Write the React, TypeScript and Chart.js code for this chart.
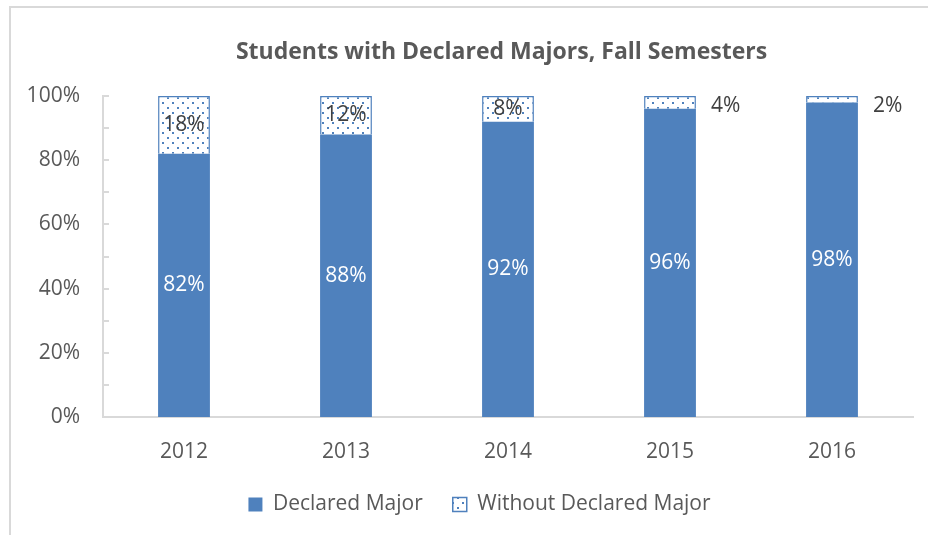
import { useEffect, useRef } from "react";
import { Chart, registerables } from "chart.js";

Chart.register(...registerables);

const titleText = "Students with Declared Majors, Fall Semesters";
const years = ["2012", "2013", "2014", "2015", "2016"];
const declaredMajor = [82, 88, 92, 96, 98];
const withoutMajor = [18, 12, 8, 4, 2];
const seriesNames = ["Declared Major", "Without Declared Major"];
const yTickValues = [0, 20, 40, 60, 80, 100];
const yMinorStep = 10;

const BLUE = "#4F81BD";
const AXIS_GRAY = "#d9d9d9";
const TEXT_GRAY = "#595959";
const LABEL_DARK = "#404040";
const FONT = "'Open Sans', 'DejaVu Sans', sans-serif";

function makeDotPattern(): CanvasPattern | string {
  const c = document.createElement("canvas");
  c.width = 10;
  c.height = 10;
  const g = c.getContext("2d");
  if (!g) return "#ffffff";
  g.fillStyle = "#ffffff";
  g.fillRect(0, 0, 10, 10);
  g.fillStyle = BLUE;
  g.fillRect(2, 2, 2, 2);
  g.fillRect(7, 7, 2, 2);
  const p = g.createPattern(c, "repeat");
  return p || "#ffffff";
}

const framePlugin = {
  id: "frame",
  beforeDraw(chart: any) {
    const { ctx, width, height } = chart;
    ctx.save();
    ctx.fillStyle = "#ffffff";
    ctx.fillRect(0, 0, width, height);
    ctx.strokeStyle = AXIS_GRAY;
    ctx.lineWidth = 2;
    ctx.beginPath();
    ctx.moveTo(10, height + 5);
    ctx.lineTo(10, 7);
    ctx.lineTo(width + 5, 7);
    ctx.stroke();
    ctx.restore();
  },
};

// shift the centring of the title and legend boxes the way the source frame does
const boxCentrePlugin = {
  id: "boxCentre",
  afterLayout(chart: any) {
    if (chart.legend) chart.legend.left = 46;
    if (chart.titleBlock) chart.titleBlock.left = 90;
  },
};

const minorTickPlugin = {
  id: "minorTicks",
  afterDraw(chart: any) {
    const y = chart.scales.y;
    const { ctx } = chart;
    const left = chart.chartArea.left;
    ctx.save();
    ctx.strokeStyle = AXIS_GRAY;
    ctx.lineWidth = 2;
    for (let v = y.min; v <= y.max; v += yMinorStep) {
      const py = Math.round(y.getPixelForValue(v));
      ctx.beginPath();
      ctx.moveTo(left, py);
      ctx.lineTo(left + 6, py);
      ctx.stroke();
    }
    ctx.restore();
  },
};

const valueLabelPlugin = {
  id: "valueLabels",
  afterDatasetsDraw(chart: any) {
    const { ctx } = chart;
    ctx.save();
    ctx.font = `21px ${FONT}`;
    ctx.textBaseline = "middle";
    chart.data.datasets.forEach((ds: any, di: number) => {
      const meta = chart.getDatasetMeta(di);
      meta.data.forEach((bar: any, i: number) => {
        const v = ds.data[i];
        const props = bar.getProps(["x", "y", "base", "width"], true);
        const cy = (props.y + props.base) / 2;
        if (di === 0) {
          ctx.fillStyle = "#ffffff";
          ctx.textAlign = "center";
          ctx.fillText(`${v}%`, props.x, cy);
        } else if (v >= 5) {
          ctx.fillStyle = LABEL_DARK;
          ctx.textAlign = "center";
          ctx.fillText(`${v}%`, props.x, cy);
        } else {
          ctx.fillStyle = LABEL_DARK;
          ctx.textAlign = "left";
          ctx.fillText(`${v}%`, props.x + props.width / 2 + 15, props.y + 10);
        }
      });
    });
    ctx.restore();
  },
};

export default function App() {
  const ref = useRef<HTMLCanvasElement | null>(null);

  useEffect(() => {
    document.body.style.margin = "0";
    const canvas = ref.current;
    if (!canvas) return;
    const pattern = makeDotPattern();
    Chart.defaults.font.family = FONT;
    const chart = new Chart(canvas, {
      type: "bar",
      data: {
        labels: years,
        datasets: [
          {
            label: seriesNames[0],
            data: declaredMajor,
            backgroundColor: BLUE,
            borderWidth: 0,
          },
          {
            label: seriesNames[1],
            data: withoutMajor,
            backgroundColor: pattern as any,
            borderColor: BLUE,
            borderWidth: 1.5,
          },
        ],
      },
      options: {
        responsive: false,
        animation: false,
        devicePixelRatio: 1,
        layout: { padding: { left: 0, right: 15, top: 0, bottom: 10 } },
        datasets: {
          bar: { categoryPercentage: 1, barPercentage: 0.32 },
        },
        plugins: {
          tooltip: { enabled: false },
          title: {
            display: true,
            text: titleText,
            color: TEXT_GRAY,
            font: { size: 23, weight: "bold", family: FONT },
            padding: { top: 39, bottom: 29.4 },
          },
          legend: {
            position: "bottom",
            labels: {
              color: TEXT_GRAY,
              font: { size: 21, family: FONT },
              boxWidth: 14,
              boxHeight: 14,
              padding: 30,
            },
          },
        },
        scales: {
          x: {
            stacked: true,
            grid: { display: false },
            border: { display: true, color: AXIS_GRAY, width: 2 },
            ticks: { color: TEXT_GRAY, font: { size: 21, family: FONT }, padding: 14 },
            afterFit(scale: any) {
              scale.height = 47;
            },
          },
          y: {
            stacked: true,
            min: 0,
            max: 100,
            grid: { display: false },
            border: { display: true, color: AXIS_GRAY, width: 2 },
            afterBuildTicks(scale: any) {
              scale.ticks = yTickValues.map((v) => ({ value: v }));
            },
            ticks: {
              color: TEXT_GRAY,
              font: { size: 21, family: FONT },
              padding: 15,
              callback: (v: any) => `${v}%`,
            },
            afterFit(scale: any) {
              scale.width = 103;
            },
          },
        },
      },
      plugins: [framePlugin, boxCentrePlugin, minorTickPlugin, valueLabelPlugin],
    } as any);
    return () => chart.destroy();
  }, []);

  return (
    <div style={{ width: 928, height: 535 }}>
      <canvas ref={ref} width={928} height={535} style={{ width: 928, height: 535, display: "block" }} />
    </div>
  );
}
